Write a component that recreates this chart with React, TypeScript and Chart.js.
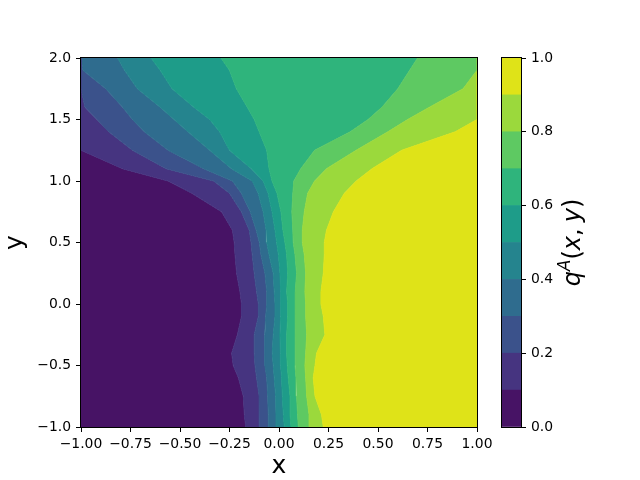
import React, { useEffect, useRef } from "react";
import { Chart, registerables } from "chart.js";
Chart.register(...registerables);

// ---- data ----
const xTicksMin = -1;
const xTicksMax = 1;
const yTicksMin = -1;
const yTicksMax = 2;
const levels = [0, 0.1, 0.2, 0.3, 0.4, 0.5, 0.6, 0.7, 0.8, 0.9, 1.0];
const levelColors = [
  "#471365", "#463480", "#3b528b", "#2f6c8e", "#25848e",
  "#1e9c89", "#2fb47c", "#5ec962", "#9bd93c", "#dfe318",
];
// y positions at which the contour boundaries are sampled
const yGrid = [-1, -0.9, -0.75, -0.6, -0.5, -0.4, -0.25, -0.1, 0, 0.1, 0.25, 0.4, 0.5, 0.6, 0.75, 0.9, 1.0, 1.1, 1.25, 1.4, 1.5, 1.6, 1.75, 1.9, 2.0];
// x of the q = 0.1 ... 0.9 contour at each y (clamped to the plot edges)
const q01 = [-0.168, -0.175, -0.18, -0.205, -0.231, -0.239, -0.21, -0.189, -0.189, -0.197, -0.214, -0.222, -0.226, -0.235, -0.29, -0.44, -0.56, -0.79, -1, -1, -1, -1, -1, -1, -1];
const q02 = [-0.101, -0.099, -0.101, -0.113, -0.121, -0.125, -0.125, -0.104, -0.104, -0.113, -0.125, -0.135, -0.141, -0.15, -0.19, -0.25, -0.33, -0.57, -0.74, -0.86, -0.92, -0.98, -1, -1, -1];
const q03 = [-0.054, -0.054, -0.057, -0.062, -0.071, -0.074, -0.071, -0.067, -0.062, -0.062, -0.071, -0.091, -0.099, -0.115, -0.145, -0.19, -0.235, -0.38, -0.56, -0.68, -0.74, -0.79, -0.875, -0.99, -1];
const q04 = [-0.015, -0.015, -0.017, -0.024, -0.029, -0.034, -0.029, -0.02, -0.02, -0.024, -0.029, -0.05, -0.062, -0.065, -0.08, -0.105, -0.135, -0.24, -0.35, -0.46, -0.53, -0.6, -0.715, -0.78, -0.815];
const q05 = [0.027, 0.022, 0.017, 0.013, 0.008, 0.007, 0.005, 0.008, 0.01, 0.007, 0.005, -0.003, -0.012, -0.02, -0.035, -0.055, -0.08, -0.14, -0.25, -0.3, -0.35, -0.43, -0.54, -0.6, -0.646];
const q06 = [0.061, 0.056, 0.056, 0.047, 0.042, 0.039, 0.039, 0.044, 0.044, 0.039, 0.044, 0.039, 0.03, 0.02, 0.01, -0.01, -0.035, -0.05, -0.062, -0.1, -0.125, -0.16, -0.215, -0.25, -0.293];
const q07 = [0.098, 0.094, 0.089, 0.086, 0.081, 0.081, 0.081, 0.084, 0.084, 0.081, 0.089, 0.081, 0.072, 0.07, 0.065, 0.07, 0.075, 0.11, 0.18, 0.36, 0.45, 0.52, 0.6, 0.66, 0.7];
const q08 = [0.152, 0.152, 0.14, 0.135, 0.131, 0.135, 0.14, 0.135, 0.135, 0.131, 0.135, 0.128, 0.118, 0.118, 0.128, 0.145, 0.18, 0.24, 0.39, 0.55, 0.65, 0.76, 0.93, 1, 1];
const q09 = [0.224, 0.215, 0.182, 0.173, 0.182, 0.19, 0.232, 0.224, 0.212, 0.212, 0.224, 0.229, 0.229, 0.24, 0.275, 0.33, 0.39, 0.47, 0.62, 0.89, 1, 1, 1, 1, 1];
const boundaries = [q01, q02, q03, q04, q05, q06, q07, q08, q09];

const FONT = "'DejaVu Sans', sans-serif";
const minus = (s: string) => s.replace("-", "\u2212");

const framePlugin = {
  id: "frame",
  afterDraw(chart: any) {
    const { ctx, chartArea } = chart;
    const { left, top, right, bottom } = chartArea;
    ctx.save();
    ctx.strokeStyle = "#000";
    ctx.lineWidth = 1;
    ctx.strokeRect(left - 0.5, top - 0.5, right - left + 1, bottom - top + 1);
    ctx.restore();
  },
};

const cbarLabelPlugin = {
  id: "cbarLabel",
  afterDraw(chart: any) {
    const { ctx, chartArea } = chart;
    const size = 24;
    const parts = [
      { t: "q", it: true, s: size, dy: 0 },
      { t: "A", it: true, s: size * 0.7, dy: -size * 0.42 },
      { t: "(", it: false, s: size, dy: 0 },
      { t: "x", it: true, s: size, dy: 0 },
      { t: ",", it: false, s: size, dy: 0 },
      { t: " ", it: false, s: size * 0.8, dy: 0 },
      { t: "y", it: true, s: size, dy: 0 },
      { t: ")", it: false, s: size, dy: 0 },
    ];
    ctx.save();
    const fontOf = (p: any) => `${p.it ? "oblique " : ""}${p.s}px ${FONT}`;
    let total = 0;
    const widths = parts.map((p) => {
      ctx.font = fontOf(p);
      const w = ctx.measureText(p.t).width;
      total += w;
      return w;
    });
    ctx.translate(chartArea.right + 59, (chartArea.top + chartArea.bottom) / 2);
    ctx.rotate(-Math.PI / 2);
    ctx.fillStyle = "#000";
    ctx.textBaseline = "alphabetic";
    ctx.textAlign = "left";
    let x = -total / 2;
    parts.forEach((p, i) => {
      ctx.font = fontOf(p);
      ctx.fillText(p.t, x, p.dy);
      x += widths[i];
    });
    ctx.restore();
  },
};

export default function App() {
  const mainRef = useRef<HTMLCanvasElement>(null);
  const barRef = useRef<HTMLCanvasElement>(null);

  useEffect(() => {
    const datasets: any[] = [];
    datasets.push({
      data: yGrid.map((y) => ({ x: xTicksMin, y })),
      borderColor: "transparent",
      borderWidth: 0,
      pointRadius: 0,
      fill: false,
      clip: 0,
    });
    boundaries.forEach((b, k) => {
      datasets.push({
        data: yGrid.map((y, i) => ({ x: b[i], y })),
        borderColor: levelColors[k + 1],
        borderWidth: 1,
        backgroundColor: levelColors[k],
        pointRadius: 0,
        fill: "-1",
        clip: 0,
      });
    });
    datasets.push({
      data: yGrid.map((y) => ({ x: xTicksMax, y })),
      borderColor: "transparent",
      borderWidth: 0,
      backgroundColor: levelColors[9],
      pointRadius: 0,
      fill: "-1",
      clip: 0,
    });

    const tickFont = { family: FONT, size: 13.9 };
    const main = new Chart(mainRef.current!, {
      type: "line",
      data: { datasets },
      options: {
        animation: false,
        responsive: false,
        devicePixelRatio: 1,
        indexAxis: "y",
        layout: { padding: { left: 0, top: 58, right: 163, bottom: 0 } },
        elements: { line: { tension: 0 }, point: { radius: 0 } },
        plugins: {
          legend: { display: false },
          tooltip: { enabled: false },
          filler: { propagate: false },
        },
        scales: {
          x: {
            type: "linear",
            position: "bottom",
            min: xTicksMin,
            max: xTicksMax,
            ticks: {
              stepSize: 0.25,
              color: "#000",
              font: tickFont,
              padding: 4,
              maxRotation: 0,
              autoSkip: false,
              callback: (v: any) => minus(Number(v).toFixed(2)),
            },
            grid: { drawOnChartArea: false, drawTicks: true, tickLength: 5, color: "#000", tickColor: "#000" },
            border: { display: false },
            title: {
              display: true,
              text: "x",
              color: "#000",
              font: { family: FONT, size: 25, lineHeight: 1 },
              padding: { top: 0, bottom: 1 },
            },
            afterFit: (s: any) => {
              s.height = 53;
            },
          },
          y: {
            type: "linear",
            position: "left",
            min: yTicksMin,
            max: yTicksMax,
            ticks: {
              stepSize: 0.5,
              color: "#000",
              font: tickFont,
              padding: 5,
              autoSkip: false,
              callback: (v: any) => minus(Number(v).toFixed(1)),
            },
            grid: { drawOnChartArea: false, drawTicks: true, tickLength: 5, color: "#000", tickColor: "#000" },
            border: { display: false },
            title: {
              display: true,
              text: "y",
              color: "#000",
              font: { family: FONT, size: 25, lineHeight: 1 },
              padding: { top: 3, bottom: 0 },
            },
            afterFit: (s: any) => {
              s.width = 81;
            },
          },
        },
      } as any,
      plugins: [framePlugin],
    });

    const cbar = new Chart(barRef.current!, {
      type: "bar",
      data: {
        labels: ["q"],
        datasets: levelColors.map((c, i) => ({
          data: [[levels[i], levels[i + 1]]],
          backgroundColor: c,
          borderWidth: 0,
          barPercentage: 1,
          categoryPercentage: 1,
          grouped: false,
        })),
      } as any,
      options: {
        animation: false,
        responsive: false,
        devicePixelRatio: 1,
        layout: { padding: { left: 502, top: 58, right: 0, bottom: 53 } },
        plugins: { legend: { display: false }, tooltip: { enabled: false } },
        scales: {
          x: { type: "category", display: false },
          y: {
            type: "linear",
            position: "right",
            min: 0,
            max: 1,
            ticks: {
              stepSize: 0.2,
              color: "#000",
              font: tickFont,
              padding: 5,
              callback: (v: any) => Number(v).toFixed(1),
            },
            grid: { drawOnChartArea: false, drawTicks: true, tickLength: 5, color: "#000", tickColor: "#000" },
            border: { display: false },
            afterFit: (s: any) => {
              s.width = 119;
            },
          },
        },
      } as any,
      plugins: [framePlugin, cbarLabelPlugin],
    });

    return () => {
      main.destroy();
      cbar.destroy();
    };
  }, []);

  return (
    <div style={{ position: "fixed", left: 0, top: 0, width: 640, height: 480, background: "#fff" }}>
      <canvas ref={mainRef} width={640} height={480} style={{ position: "absolute", left: 0, top: 0 }} />
      <canvas ref={barRef} width={640} height={480} style={{ position: "absolute", left: 0, top: 0 }} />
    </div>
  );
}
